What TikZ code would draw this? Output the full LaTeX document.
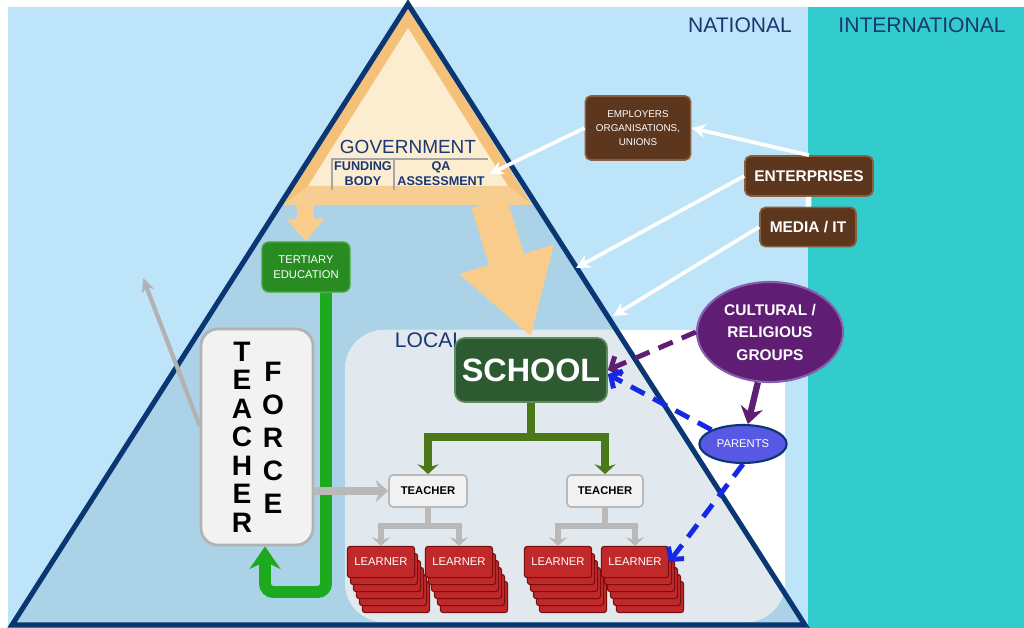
\documentclass[tikz,border=0pt]{standalone}
\usepackage{fontspec}
\setmainfont{Liberation Sans}
\usetikzlibrary{arrows.meta,shapes.geometric}

\definecolor{sky}{RGB}{189,228,248}
\definecolor{sea}{RGB}{51,204,204}
\definecolor{lowblue}{RGB}{172,210,232}
\definecolor{localgrey}{RGB}{226,233,238}
\definecolor{rim}{RGB}{10,55,115}
\definecolor{navytext}{RGB}{25,55,115}
\definecolor{govedge}{RGB}{245,192,120}
\definecolor{govcream}{RGB}{252,236,208}
\definecolor{govband}{RGB}{246,206,145}
\definecolor{orangearr}{RGB}{250,204,140}
\definecolor{wood}{RGB}{92,55,30}
\definecolor{woodedge}{RGB}{140,95,60}
\definecolor{leaf}{RGB}{40,140,35}
\definecolor{leafedge}{RGB}{70,170,60}
\definecolor{pine}{RGB}{45,90,48}
\definecolor{pineedge}{RGB}{95,140,95}
\definecolor{paper}{RGB}{242,242,242}
\definecolor{blood}{RGB}{192,40,42}
\definecolor{bloodedge}{RGB}{120,15,15}
\definecolor{grape}{RGB}{95,30,115}
\definecolor{grapeedge}{RGB}{135,95,175}
\definecolor{dashblue}{RGB}{20,40,230}
\definecolor{parentblue}{RGB}{88,88,228}
\definecolor{pipe}{RGB}{30,170,30}
\definecolor{olive2}{RGB}{75,120,25}

\tikzset{
  brownbox/.style={draw=woodedge, line width=1.2pt, fill=wood, rounded corners=4pt, text=white, align=center, inner sep=1pt},
  greenbox/.style={draw=leafedge, line width=1pt, fill=leaf, rounded corners=5pt, text=white, align=center},
  schoolbox/.style={draw=pineedge, line width=1.2pt, fill=pine, rounded corners=7pt, text=white},
  paperbox/.style={draw=gray!55, line width=1.2pt, fill=paper, rounded corners=3pt},
  learnerbox/.style={draw=bloodedge, line width=0.8pt, fill=blood, rounded corners=2pt, minimum width=1.68cm, minimum height=0.78cm, text=white, font=\fontsize{8}{8}\selectfont},
  whitearrow/.style={draw=white, line width=2.6pt, -{Stealth[length=10pt,width=10pt]}},
  whiteline/.style={draw=white, line width=4pt},
  greyarrow/.style={draw=gray!60, line width=3pt, -{Stealth[length=10pt,width=9pt]}},
  treegreen/.style={draw=olive2, line width=5pt, -{Stealth[length=7pt,width=15pt]}},
  treegrey/.style={draw=gray!55, line width=4pt, -{Stealth[length=6pt,width=13pt]}},
  dashpurple/.style={draw=grape, line width=3.5pt, dash pattern=on 11pt off 7pt, -{Straight Barb[length=6pt,width=14pt]}},
  dashblue/.style={draw=dashblue, line width=3.5pt, dash pattern=on 11pt off 7pt, -{Straight Barb[length=6pt,width=14pt]}},
  orangearrow/.style={draw=orangearr, line width=12pt, -{Triangle[length=16pt,width=26pt]}},
  bigorange/.style={draw=orangearr, line width=26pt, -{Triangle[length=58pt,width=66pt]}},
  levellabel/.style={text=navytext, font=\fontsize{15}{15}\selectfont},
  forcetext/.style={align=center, inner sep=0pt},
}

\begin{document}
\begin{tikzpicture}[x=0.025cm,y=-0.025cm]
\useasboundingbox (0,0) rectangle (1024,628);
\fill[white] (0,0) rectangle (1024,628);
\fill[sky] (8,7) rectangle (808,628);
\fill[sea] (808,7) rectangle (1024,628);
\fill[lowblue] (280,205) -- (537,205) -- (805,625) -- (12,625) -- cycle;
\fill[white] (785,330) [rounded corners=28pt] -- (345,330) -- (345,622) -- (785,622) [sharp corners] -- cycle;
\begin{scope}
\clip (408,4) -- (805,625) -- (12,625) -- cycle;
\fill[localgrey] (785,330) [rounded corners=28pt] -- (345,330) -- (345,622) -- (785,622) [sharp corners] -- cycle;
\end{scope}

\fill[govedge] (408,8) -- (532,205) -- (283,205) -- cycle;
\fill[govcream] (408,28) -- (508,186) -- (308,186) -- cycle;
\fill[govband] (308,186) -- (508,186) -- (532,205) -- (283,205) -- cycle;
\draw[rim, line width=3.6pt] (408,4) -- (805,625) -- (12,625) -- cycle;

\node[levellabel] (national) at (740,25) {NATIONAL};
\node[levellabel] (international) at (922,25) {INTERNATIONAL};
\node[levellabel, anchor=west] (local) at (390,340) {LOCAL};

\node[text=navytext, font=\fontsize{13.5}{13.5}\selectfont] (gov) at (408,147) {GOVERNMENT};
\node[text=navytext, align=center, font=\fontsize{9}{10.7}\selectfont\bfseries] (funding) at (363,174) {FUNDING\\BODY};
\node[text=navytext, align=center, font=\fontsize{9}{10.7}\selectfont\bfseries] (qa) at (441,174) {QA\\ASSESSMENT};
\draw[gray!70, line width=0.8pt] (332,190) -- (332,159) -- (488,159);
\draw[gray!70, line width=0.8pt] (394,159) -- (394,190);

\node[greenbox, minimum width=2.2cm, minimum height=1.25cm, font=\fontsize{8}{10.5}\selectfont] (tertiary) at (306,267) {TERTIARY\\EDUCATION};
\node[paperbox, draw=gray!60, line width=2pt, rounded corners=12pt, minimum width=2.8cm, minimum height=5.4cm] (teacherforce) at (257,437) {};
\node[forcetext, font=\fontsize{20}{20.3}\selectfont\bfseries] (teacher) at (242,437) {T\\E\\A\\C\\H\\E\\R};
\node[forcetext, font=\fontsize{20}{23.5}\selectfont\bfseries] (force) at (273,438) {F\\O\\R\\C\\E};

\node[schoolbox, minimum width=3.8cm, minimum height=1.6cm, font=\fontsize{23}{23}\selectfont\bfseries] (school) at (531,370) {SCHOOL};
\node[paperbox, minimum width=1.95cm, minimum height=0.8cm, font=\fontsize{8}{8}\selectfont\bfseries] (teacherA) at (428,491) {TEACHER};
\node[paperbox, minimum width=1.9cm, minimum height=0.8cm, font=\fontsize{8}{8}\selectfont\bfseries] (teacherB) at (605,491) {TEACHER};

\foreach \n/\x in {learnerA/381, learnerB/459, learnerC/558, learnerD/635} {
  \foreach \k in {5,4,...,1}
    \node[learnerbox] at (\x+3*\k, 562+7*\k) {};
  \node[learnerbox] (\n) at (\x,562) {LEARNER};
}

\node[brownbox, minimum width=2.63cm, minimum height=1.6cm, font=\fontsize{7}{10}\selectfont] (employers) at (638,128) {EMPLOYERS\\ORGANISATIONS,\\UNIONS};
\node[brownbox, minimum width=3.2cm, minimum height=1cm, font=\fontsize{11}{11}\selectfont\bfseries] (enterprises) at (809,176) {ENTERPRISES};
\node[brownbox, minimum width=2.4cm, minimum height=0.98cm, font=\fontsize{11}{11}\selectfont\bfseries] (media) at (808,227) {MEDIA / IT};

\node[ellipse, draw=grapeedge, line width=1.5pt, fill=grape, text=white, align=center, minimum width=3.65cm, minimum height=2.5cm, inner sep=0pt, font=\fontsize{11}{16}\selectfont\bfseries] (cultural) at (770,332) {CULTURAL /\\RELIGIOUS\\GROUPS};
\node[ellipse, draw=rim, line width=1.5pt, fill=parentblue, text=white, minimum width=2.18cm, minimum height=0.95cm, inner sep=0pt, font=\fontsize{8}{8}\selectfont] (parents) at (743,444) {PARENTS};

\coordinate (govleft) at (305,203);
\coordinate (govright) at (489,203);
\draw[orangearrow] (govleft) -- (tertiary.north);
\draw[bigorange] (govright) -- (school.north);

\coordinate (bend) at (265,592);
\draw[pipe, line width=8.5pt, rounded corners=6pt, -{Stealth[length=16pt,width=22pt]}] ([xshift=0.5cm]tertiary.south) |- (bend) -- (bend |- teacherforce.south);

\coordinate (outward) at (143,278);
\draw[greyarrow] ([yshift=8pt]teacherforce.west) -- (outward);
\draw[draw=gray!55, line width=5.5pt, -{Stealth[length=9pt,width=16pt]}] (teacherforce.east |- teacherA.west) -- (teacherA.west);

\coordinate (split) at (531,437);
\draw[olive2, line width=5pt] (school.south) -- (split);
\draw[treegreen] (split) -| (teacherA.north);
\draw[treegreen] (split) -| (teacherB.north);

\coordinate (splitA) at (428,526);
\coordinate (splitB) at (605,526);
\draw[gray!55, line width=4pt] (teacherA.south) -- (splitA);
\draw[treegrey] (splitA) -| (learnerA.north);
\draw[treegrey] (splitA) -| (learnerB.north);
\draw[gray!55, line width=4pt] (teacherB.south) -- (splitB);
\draw[treegrey] (splitB) -| (learnerC.north);
\draw[treegrey] (splitB) -| (learnerD.north);

\coordinate (reachA) at (576,268);
\coordinate (reachB) at (613,316);
\draw[whitearrow] (employers.west) -- (qa.east);
\draw[whitearrow] (enterprises.north) -- (employers.east);
\draw[whitearrow] (enterprises.west) -- (reachA);
\draw[whitearrow] (media.west) -- (reachB);
\draw[whiteline] (enterprises) -- (media);

\draw[grape, line width=4.5pt, -{Stealth[length=12pt,width=16pt]}] (cultural) -- (parents);
\draw[dashpurple] (cultural.west) -- (school.east);
\draw[dashblue] (parents.north west) -- ([yshift=-3pt]school.east);
\draw[dashblue] (parents.south) -- (learnerD.east);
\end{tikzpicture}
\end{document}
